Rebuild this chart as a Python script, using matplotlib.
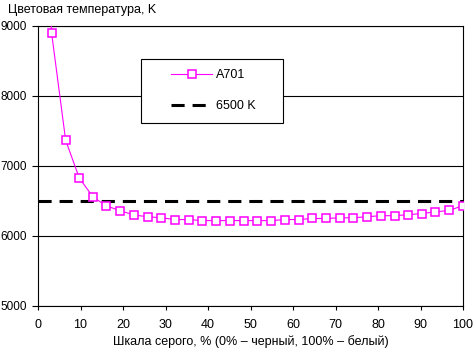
import matplotlib
matplotlib.use("Agg")
import matplotlib.pyplot as plt
from matplotlib.patches import Rectangle

# Grey level, % (one point off the chart at 0 %)
gray_pct = [0.0, 3.2, 6.5, 9.7, 12.9, 16.1, 19.4, 22.6, 25.8, 29.0, 32.3,
            35.5, 38.7, 41.9, 45.2, 48.4, 51.6, 54.8, 58.1, 61.3, 64.5,
            67.7, 71.0, 74.2, 77.4, 80.6, 83.9, 87.1, 90.3, 93.5, 96.8, 100.0]
# Colour temperature, K
temp_a701 = [12800, 8900, 7370, 6830, 6560, 6430, 6360, 6300, 6275, 6260, 6235,
             6235, 6220, 6220, 6220, 6220, 6220, 6220, 6235, 6235, 6250,
             6250, 6260, 6260, 6275, 6290, 6290, 6305, 6320, 6345, 6365, 6435]
ref_temp = 6500
series_label = "A701"
ref_label = "6500 K"
x_ticks = [0, 10, 20, 30, 40, 50, 60, 70, 80, 90, 100]
y_ticks = [5000, 6000, 7000, 8000, 9000]

W, H = 473, 349
plt.rcParams['font.family'] = ['Liberation Sans', 'DejaVu Sans']
plt.rcParams['font.size'] = 9

fig = plt.figure(figsize=(W / 100, H / 100), dpi=100)
ax = fig.add_axes([38 / W, 1 - 306 / H, 425 / W, 280 / H])

# Grid
for yv in y_ticks:
    ax.axhline(yv, color='black', lw=0.8, zorder=1)

# Reference line
ax.axhline(ref_temp, color='black', lw=2.2, ls=(0, (4.3, 2.6)),
           label=ref_label, zorder=2)
# Measured series
ax.plot(gray_pct, temp_a701, color='#FF00FF', lw=0.8, marker='s',
        markersize=6, markerfacecolor='white', markeredgecolor='#FF00FF',
        markeredgewidth=1.1, label=series_label, zorder=3)

ax.set_xlim(0, 100)
ax.set_ylim(5000, 9000)
ax.set_xticks(x_ticks)
ax.set_yticks(y_ticks)
ax.tick_params(direction='out', length=3, width=0.8, colors='black',
               labelsize=9)
ax.tick_params(axis='x', pad=6)
ax.tick_params(axis='y', length=4, pad=4, labelsize=8.5)
for sp in ax.spines.values():
    sp.set_linewidth(0.8)
    sp.set_color('black')

ax.set_xlabel("Шкала серого, % (0% – черный, 100% – белый)", fontsize=9,
              labelpad=3)
fig.text(8 / W, 1 - 10 / H, "Цветовая температура, K", fontsize=9,
         ha='left', va='center')

# Legend box drawn by hand, entries placed inside it
box = Rectangle((140.5 / W, 1 - 122.5 / H), 142.5 / W, 63.5 / H,
                transform=fig.transFigure, facecolor='white',
                edgecolor='black', lw=0.8, clip_on=False, zorder=4)
ax.add_patch(box)

handles, labels = ax.get_legend_handles_labels()
leg = ax.legend(handles[::-1], labels[::-1], loc='upper left',
                bbox_to_anchor=(171 / W, 1 - 69.5 / H),
                bbox_transform=fig.transFigure, frameon=False,
                borderpad=0, borderaxespad=0, labelspacing=1.5,
                handlelength=3.3, handletextpad=0.3)
leg.set_zorder(5)

fig.savefig("out.png", dpi=100)
